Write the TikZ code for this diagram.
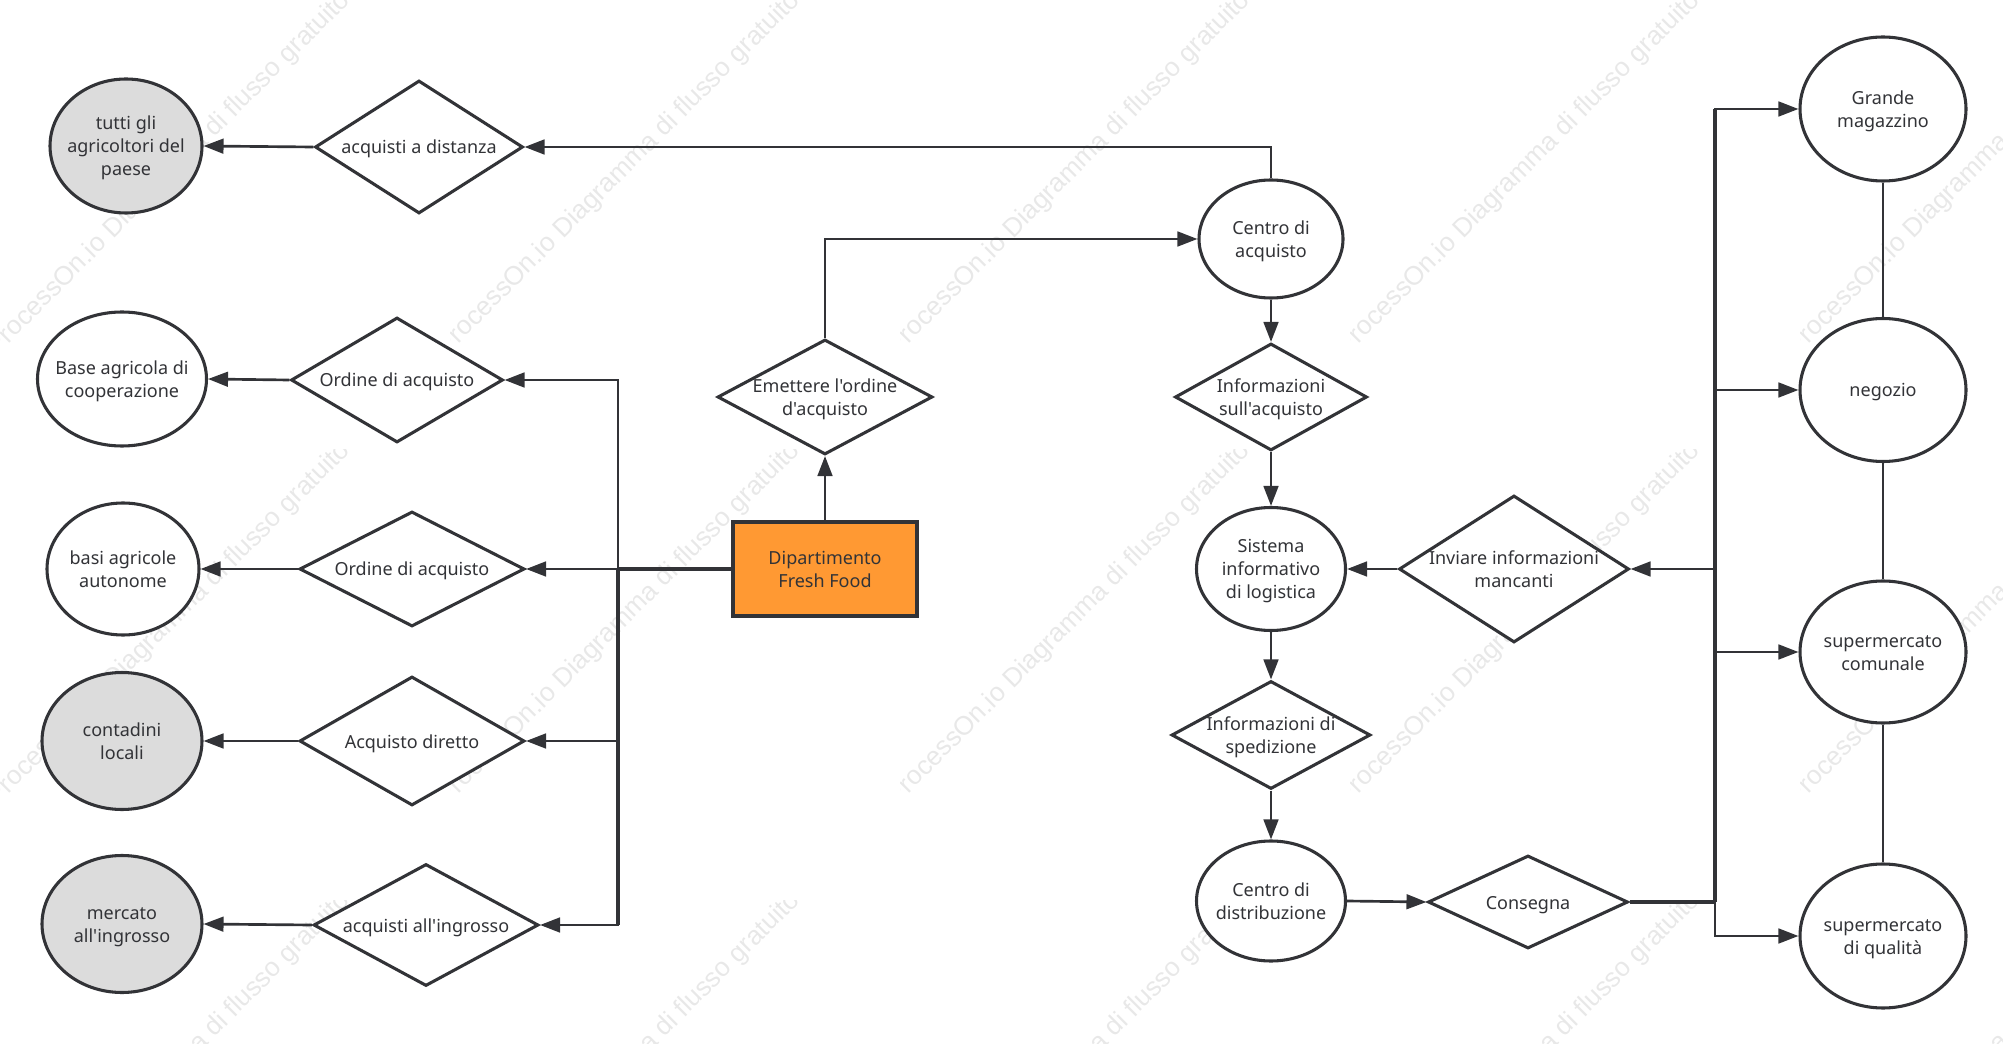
\documentclass[tikz,border=0pt]{standalone}
\usepackage{fontspec}
\usepackage{tikz}
\usetikzlibrary{arrows.meta, shapes.geometric}
\newfontfamily\labelfont{Noto Sans}
\newfontfamily\markfont{Liberation Sans}
\definecolor{ink}{HTML}{323337}
\definecolor{soil}{HTML}{DCDCDC}
\definecolor{fresh}{HTML}{FF9933}
\definecolor{markgray}{HTML}{E8E8E8}
\newcommand{\lbl}[1]{\smash{\makebox[0pt]{\raisebox{-.4em}{\begin{tabular}{@{}c@{}}#1\end{tabular}}}}}

\begin{document}
\begin{tikzpicture}[x=0.75pt, y=-0.75pt, >={Triangle[length=15pt,width=11pt]},
    every node/.style={font=\labelfont\fontsize{13.5}{17.25}\selectfont, text=ink},
    wire/.style={draw=ink, line width=2pt},
    busline/.style={draw=ink, line width=2.7pt},
    fatwire/.style={draw=ink, line width=3.2pt},
    link/.style={draw=ink, line width=1.6pt},
    place/.style={ellipse, draw=ink, line width=2.3pt, fill=white, inner sep=0pt},
    farm/.style={place, fill=soil},
    choice/.style={diamond, draw=ink, line width=2.3pt, fill=white, inner sep=0pt},
    wmark/.style={font=\markfont\fontsize{19.8}{22}\selectfont, text=markgray, rotate=45, anchor=west, inner sep=0pt}]
        \useasboundingbox (0,0) rectangle (2003,1044);

        % watermark tiles
        \foreach \c in {0,1,2,3,4} {
            \foreach \r in {0,1,2} {
                \begin{scope}
                    \clip (450*\c,450*\r) rectangle +(450,450);
                    \node[wmark] (wm\c\r) at (450*\c-9,450*\r+352) {ProcessOn.io Diagramma di flusso gratuito};
                \end{scope}
            }
        }

        % left column
        \node[farm, minimum width=152*0.75pt, minimum height=134*0.75pt] (tutti) at (126,146) {\lbl{tutti gli\\agricoltori del\\paese}};
        \node[place, minimum width=169*0.75pt, minimum height=134*0.75pt] (base) at (122,379) {\lbl{Base agricola di\\cooperazione}};
        \node[place, minimum width=152*0.75pt, minimum height=132*0.75pt] (basi) at (123,569) {\lbl{basi agricole\\autonome}};
        \node[farm, minimum width=160*0.75pt, minimum height=137*0.75pt] (contadini) at (122,741) {\lbl{contadini\\locali}};
        \node[farm, minimum width=160*0.75pt, minimum height=137*0.75pt] (mercato) at (122,924) {\lbl{mercato\\all'ingrosso}};

        \node[choice, minimum width=208*0.75pt, minimum height=133*0.75pt] (distanza) at (419,147) {\lbl{acquisti a distanza}};
        \node[choice, minimum width=212*0.75pt, minimum height=125*0.75pt] (ordine1) at (397,380) {\lbl{Ordine di acquisto}};
        \node[choice, minimum width=225*0.75pt, minimum height=115*0.75pt] (ordine2) at (412,569) {\lbl{Ordine di acquisto}};
        \node[choice, minimum width=225*0.75pt, minimum height=129*0.75pt] (diretto) at (412,741) {\lbl{Acquisto diretto}};
        \node[choice, minimum width=225*0.75pt, minimum height=122*0.75pt] (ingrosso) at (426,925) {\lbl{acquisti all'ingrosso}};

        % centre
        \node[draw=ink, line width=2.6pt, fill=fresh, minimum width=184*0.75pt, minimum height=94*0.75pt, inner sep=0pt] (dept) at (825,569) {\lbl{Dipartimento\\Fresh Food}};
        \node[choice, minimum width=215*0.75pt, minimum height=115*0.75pt] (emette) at (825,397) {\lbl{Emettere l'ordine\\d'acquisto}};

        % logistics column
        \node[place, minimum width=144*0.75pt, minimum height=118*0.75pt] (centro) at (1271,239) {\lbl{Centro di\\acquisto}};
        \node[choice, minimum width=192*0.75pt, minimum height=107*0.75pt] (infoacq) at (1271,397) {\lbl{Informazioni\\sull'acquisto}};
        \node[place, minimum width=149*0.75pt, minimum height=123*0.75pt] (sistema) at (1271,569) {\lbl{Sistema\\informativo\\di logistica}};
        \node[choice, minimum width=199*0.75pt, minimum height=108*0.75pt] (infosped) at (1271,735) {\lbl{Informazioni di\\spedizione}};
        \node[place, minimum width=149*0.75pt, minimum height=120*0.75pt] (distrib) at (1271,901) {\lbl{Centro di\\distribuzione}};

        \node[choice, minimum width=230*0.75pt, minimum height=147*0.75pt] (inviare) at (1514,569) {\lbl{Inviare informazioni\\mancanti}};
        \node[choice, minimum width=200*0.75pt, minimum height=93*0.75pt] (consegna) at (1528,902) {\lbl{Consegna}};

        % shops
        \node[place, minimum width=166*0.75pt, minimum height=144*0.75pt] (grande) at (1883,109) {\lbl{Grande\\magazzino}};
        \node[place, minimum width=166*0.75pt, minimum height=143*0.75pt] (negozio) at (1883,390) {\lbl{negozio}};
        \node[place, minimum width=166*0.75pt, minimum height=142*0.75pt] (comunale) at (1883,652) {\lbl{supermercato\\comunale}};
        \node[place, minimum width=166*0.75pt, minimum height=144*0.75pt] (qualita) at (1883,936) {\lbl{supermercato\\di qualità}};

        \coordinate (busl) at (618,569);
        \coordinate (busr) at (1715,902);

        \draw[busline] (busr) -- (busr |- grande.west);
        \draw[busline] (busl) -- (busl |- ingrosso.east);

        \path[->, every edge/.append style={wire}]
        (distanza.west) edge (tutti.east)
        (ordine1.west) edge (base.east)
        (ordine2.west) edge (basi.east)
        (diretto.west) edge (contadini.east)
        (ingrosso.west) edge (mercato.east)
        (dept.north) edge (emette.south)
        (centro.south) edge (infoacq.north)
        (infoacq.south) edge (sistema.north)
        (sistema.south) edge (infosped.north)
        (infosped.south) edge (distrib.north)
        (distrib.east) edge (consegna.west)
        (inviare.west) edge (sistema.east)
        (busl) edge (ordine2.east);

        \draw[->, wire] (centro.north) |- (distanza.east);
        \draw[->, wire] (emette.north) |- (centro.west);
        \draw[->, wire] (busl) |- (ordine1.east);
        \draw[->, wire] (busl) |- (diretto.east);
        \draw[->, wire] (busl) |- (ingrosso.east);
        \draw[->, wire] (busr) |- (grande.west);
        \draw[->, wire] (busr) |- (negozio.west);
        \draw[->, wire] (busr) |- (inviare.east);
        \draw[->, wire] (busr) |- (comunale.west);
        \draw[->, wire] (busr) |- (qualita.west);

        \draw[fatwire] (dept.west) -- (busl);
        \draw[fatwire] (consegna.east) -- (busr);

        \path[every edge/.append style={link}]
        (grande) edge (negozio)
        (negozio) edge (comunale)
        (comunale) edge (qualita);
    \end{tikzpicture}
\end{document}
